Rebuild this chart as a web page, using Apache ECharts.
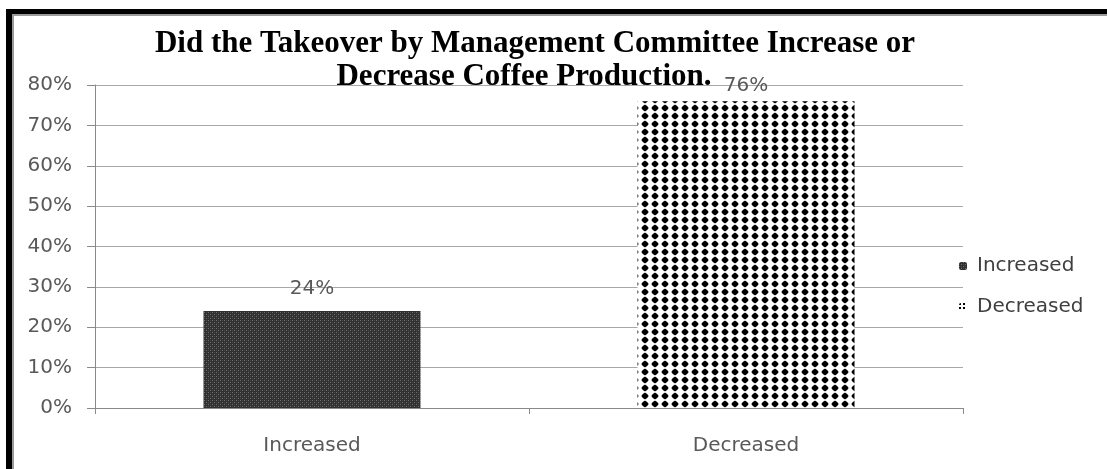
<!DOCTYPE html>
<html>
<head>
<meta charset="utf-8">
<script src="https://cdn.jsdelivr.net/npm/echarts@6/dist/echarts.min.js"></script>
<style>
html,body{margin:0;padding:0;background:#fff;}
#chart{width:1107px;height:469px;}
</style>
</head>
<body>
<div id="chart"></div>
<script>
var categories = ['Increased', 'Decreased'];
var increasedValues = [24, '-'];
var decreasedValues = ['-', 76];
var yTicks = [0, 10, 20, 30, 40, 50, 60, 70, 80];
var titleLines = ['Did the Takeover by Management Committee Increase or', 'Decrease Coffee Production.'];

function makeIncreasedPattern() {
  var c = document.createElement('canvas');
  c.width = 4; c.height = 4;
  var g = c.getContext('2d');
  g.fillStyle = '#303030'; g.fillRect(0, 0, 4, 4);
  g.fillStyle = '#707070';
  g.fillRect(0, 0, 1, 1); g.fillRect(2, 2, 1, 1);
  g.fillStyle = '#484848';
  g.fillRect(2, 0, 1, 1); g.fillRect(0, 2, 1, 1);
  return c;
}
function makeDecreasedPattern() {
  var c = document.createElement('canvas');
  c.width = 10; c.height = 8;
  var g = c.getContext('2d');
  g.fillStyle = '#ffffff'; g.fillRect(0, 0, 10, 8);
  g.fillStyle = '#000000';
  g.beginPath();
  g.moveTo(5, 0.6); g.lineTo(8.8, 4); g.lineTo(5, 7.4); g.lineTo(1.2, 4); g.closePath();
  g.fill();
  g.beginPath(); g.arc(5, 4, 2.8, 0, Math.PI * 2); g.fill();
  return c;
}
function makeLegendDecPattern() {
  var c = document.createElement('canvas');
  c.width = 4; c.height = 4;
  var g = c.getContext('2d');
  g.fillStyle = '#ffffff'; g.fillRect(0, 0, 4, 4);
  g.fillStyle = '#000000';
  g.fillRect(0, 0, 2, 2);
  return c;
}

var chart = echarts.init(document.getElementById('chart'), null, {renderer: 'canvas'});
var incColor = {image: makeIncreasedPattern(), repeat: 'repeat'};
var decColor = {image: makeDecreasedPattern(), repeat: 'repeat'};
var FONT = 'DejaVu Sans';

chart.setOption({
  backgroundColor: '#ffffff',
  animation: false,
  graphic: [
    {type: 'rect', shape: {x: 6, y: 9, width: 1101, height: 5}, style: {fill: '#000'}, z: 100},
    {type: 'rect', shape: {x: 6, y: 14, width: 1101, height: 2}, style: {fill: '#9a9a9a'}, z: 100},
    {type: 'rect', shape: {x: 6, y: 9, width: 6, height: 460}, style: {fill: '#000'}, z: 100},
    {type: 'rect', shape: {x: 12, y: 14, width: 2, height: 455}, style: {fill: '#9a9a9a'}, z: 100},
    {type: 'text', x: 535, y: 44, z: 100, style: {text: titleLines[0], font: 'bold 31px "Liberation Serif"', fill: '#000', textAlign: 'center', textVerticalAlign: 'middle'}},
    {type: 'text', x: 524, y: 77, z: 100, style: {text: titleLines[1], font: 'bold 31px "Liberation Serif"', fill: '#000', textAlign: 'center', textVerticalAlign: 'middle'}}
  ],
  legend: {
    orient: 'vertical',
    left: 954,
    top: 251,
    itemWidth: 8,
    itemHeight: 8,
    itemGap: 21,
    data: [
      {name: categories[0]},
      {name: categories[1], itemStyle: {color: {image: makeLegendDecPattern(), repeat: 'repeat'}}}
    ],
    textStyle: {fontSize: 20, fontFamily: FONT, color: '#404040', lineHeight: 20, padding: [0, 0, 0, 5]}
  },
  grid: {left: 95, right: 144, top: 85, bottom: 61},
  xAxis: {
    type: 'category',
    data: categories,
    axisLine: {lineStyle: {color: '#8a8a8a'}},
    axisTick: {show: true, alignWithLabel: false, length: 6, lineStyle: {color: '#8a8a8a'}},
    axisLabel: {color: '#595959', fontSize: 20, fontFamily: FONT, margin: 28}
  },
  yAxis: {
    type: 'value',
    min: 0,
    max: 80,
    interval: 10,
    axisLine: {show: true, lineStyle: {color: '#8a8a8a'}},
    axisTick: {show: true, length: 8, lineStyle: {color: '#8a8a8a'}},
    axisLabel: {formatter: '{value}%', color: '#595959', fontSize: 20, fontFamily: FONT, margin: 23},
    splitLine: {lineStyle: {color: '#a8a8a8'}}
  },
  series: [
    {name: 'Increased', type: 'bar', stack: 'one', barWidth: '50%', data: increasedValues, itemStyle: {color: incColor},
     label: {show: true, position: 'top', distance: 12, formatter: '{c}%', color: '#595959', fontSize: 20, fontFamily: FONT}},
    {name: 'Decreased', type: 'bar', stack: 'one', barWidth: '50%', data: decreasedValues, itemStyle: {color: decColor},
     label: {show: true, position: 'top', distance: 5, formatter: '{c}%', color: '#595959', fontSize: 20, fontFamily: FONT}}
  ]
});
</script>
</body>
</html>
